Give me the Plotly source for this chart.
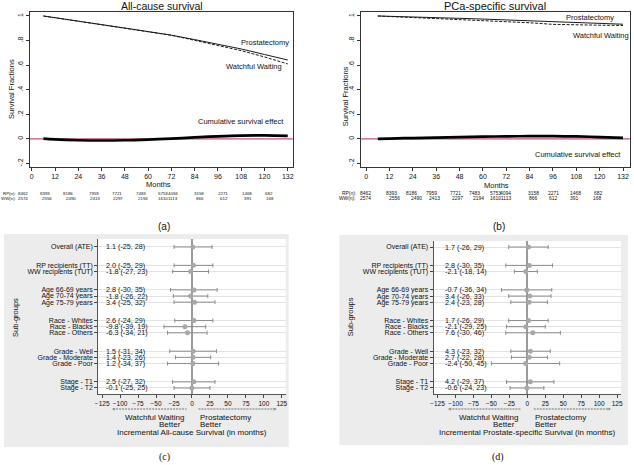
import plotly.graph_objects as go

W, H = 634, 465
FONT = "Liberation Sans"

# ---------------- Data: survival curves ----------------
months = [6, 12, 24, 36, 48, 60, 72, 84, 96, 108, 120, 132]
ac_rp = [1.0, 0.985, 0.957, 0.930, 0.902, 0.875, 0.844, 0.808, 0.771, 0.732, 0.687, 0.642]
ac_ww = [1.0, 0.986, 0.960, 0.933, 0.905, 0.876, 0.843, 0.802, 0.761, 0.718, 0.667, 0.610]
ac_eff = [0.003, -0.004, -0.011, -0.013, -0.011, -0.005, 0.003, 0.012, 0.021, 0.027, 0.028, 0.024]

pc_rp = [1.0, 0.998, 0.993, 0.987, 0.981, 0.975, 0.968, 0.961, 0.954, 0.947, 0.940, 0.933]
pc_ww = [1.0, 0.996, 0.988, 0.980, 0.972, 0.965, 0.958, 0.945, 0.932, 0.926, 0.925, 0.923]
pc_eff = [0.0, 0.003, 0.007, 0.011, 0.015, 0.018, 0.021, 0.022, 0.022, 0.020, 0.015, 0.008]

x_ticks = [0, 12, 24, 36, 48, 60, 72, 84, 96, 108, 120, 132]
y_ticks = [-0.2, 0, 0.2, 0.4, 0.6, 0.8, 1.0]
y_ticktext = ["-.2", "0", ".2", ".4", ".6", ".8", "1"]

rp_n = [8462, 8393, 8186, 7959, 7721, 7483, 5753, 4094, 3158, 2271, 1468, 682]
ww_n = [2574, 2556, 2490, 2413, 2297, 2194, 1610, 1113, 866, 612, 391, 168]

# ---------------- Data: forest plots ----------------
labels = ["Overall (ATE)", "RP recipients (TT)", "WW recipients (TUT)",
          "Age 66-69 years", "Age 70-74 years", "Age 75-79 years",
          "Race - Whites", "Race - Blacks", "Race - Others",
          "Grade - Well", "Grade - Moderate", "Grade - Poor",
          "Stage - T1", "Stage - T2"]
group_sizes = [1, 2, 3, 3, 3, 2]

c_est = [1.1, 2.0, -1.8, 2.8, -1.8, 3.4, 2.6, -9.8, -6.3, 1.5, 1.4, 1.2, 2.5, -0.1]
c_lo = [-25, -25, -27, -30, -26, -25, -24, -39, -34, -31, -23, -34, -27, -25]
c_hi = [28, 29, 23, 35, 22, 32, 29, 19, 21, 34, 26, 37, 32, 25]

d_est = [1.7, 2.8, -2.1, -0.7, 3.4, 2.4, 1.7, -2.1, 7.6, 4.3, 2.7, -2.4, 4.2, -0.6]
d_lo = [-26, -30, -18, -36, -26, -23, -26, -29, -30, -23, -22, -50, -29, -24]
d_hi = [29, 35, 14, 34, 33, 28, 29, 25, 46, 32, 28, 45, 37, 23]

forest_ticks = [-125, -100, -75, -50, -25, 0, 25, 50, 75, 100, 125]

# ---------------- helpers ----------------
def fx(x):
    return x / W

def fy(y):
    return 1 - y / H

positions = []
i = 0
for g, n in enumerate(group_sizes):
    for _ in range(n):
        positions.append(i + 2 * g)
        i += 1

fig = go.Figure()

# ---- panel a / b survival ----
for (rp, ww, eff, xa, ya) in [(ac_rp, ac_ww, ac_eff, "x", "y"), (pc_rp, pc_ww, pc_eff, "x2", "y2")]:
    fig.add_trace(go.Scatter(x=months, y=rp, mode="lines", xaxis=xa, yaxis=ya,
                             line=dict(color="#1a1a1a", width=1), showlegend=False, hoverinfo="skip"))
    fig.add_trace(go.Scatter(x=months, y=ww, mode="lines", xaxis=xa, yaxis=ya,
                             line=dict(color="#1a1a1a", width=1, dash="3px,1.5px"), showlegend=False, hoverinfo="skip"))
    fig.add_trace(go.Scatter(x=months, y=eff, mode="lines", xaxis=xa, yaxis=ya,
                             line=dict(color="black", width=2.7, shape="spline"), showlegend=False, hoverinfo="skip"))

# ---- panel c / d forest ----
for (est, lo, hi, xa, ya) in [(c_est, c_lo, c_hi, "x3", "y3"), (d_est, d_lo, d_hi, "x4", "y4")]:
    fig.add_trace(go.Scatter(
        x=est, y=positions, mode="markers", xaxis=xa, yaxis=ya,
        marker=dict(color="#a8a8a8", size=5),
        error_x=dict(type="data", array=[h - e for h, e in zip(hi, est)],
                     arrayminus=[e - l for e, l in zip(est, lo)],
                     color="#8c8c8c", thickness=1, width=2),
        showlegend=False, hoverinfo="skip"))

# ---------------- shapes ----------------
shapes = []
for (x0, y0, x1, y1) in [(1, 234, 288, 447), (339, 235, 630, 445)]:
    shapes.append(dict(type="rect", xref="paper", yref="paper", x0=fx(x0), x1=fx(x1),
                       y0=fy(y1), y1=fy(y0), fillcolor="#ececec", line=dict(width=0), layer="below"))
for (x0, y0, x1, y1) in [(96, 239, 285, 394), (434, 241, 623, 394)]:
    shapes.append(dict(type="rect", xref="paper", yref="paper", x0=fx(x0), x1=fx(x1),
                       y0=fy(y1), y1=fy(y0), fillcolor="white", line=dict(width=0), layer="below"))
for xa, ya in [("x", "y"), ("x2", "y2")]:
    shapes.append(dict(type="line", xref=xa + " domain", yref=ya, x0=0, x1=1, y0=0, y1=0,
                       line=dict(color="#b02a52", width=1), layer="below"))

# ---------------- annotations ----------------
ann = []

def txt(text, x, y, size=7.5, xanchor="center", yanchor="middle", angle=0, family=FONT, color="#111"):
    ann.append(dict(text=text, x=fx(x), y=fy(y), xref="paper", yref="paper", showarrow=False,
                    xanchor=xanchor, yanchor=yanchor, textangle=angle,
                    font=dict(family=family, size=size, color=color)))

txt("All-cause survival", 160, 5.5, size=10.5)
txt("PCa-specific survival", 496, 5.5, size=11)
txt("Survival Fractions", 8, 89, size=7.5, angle=-90)
txt("Survival Fractions", 346, 96, size=7.5, angle=-90)
txt("Months", 157, 184, size=7.5)
txt("Months", 497, 185, size=7.5)
txt("Prostatectomy", 264, 42)
txt("Watchful Waiting", 253, 66)
txt("Cumulative survival effect", 240, 121)
txt("Prostatectomy", 592, 17)
txt("Watchful Waiting", 603, 35)
txt("Cumulative survival effect", 580, 154)

a_rp_pos = [20, 42, 66, 92, 115, 139, 161, 171, 198, 222, 246, 268]
a_ww_pos = [20, 44, 69, 93, 116, 141, 161, 171, 199, 223, 247, 269]
b_rp_pos = [365.5, 391.5, 412, 432, 456.5, 475.5, 496.5, 506.5, 535, 555, 577, 599.5]
b_ww_pos = [365.5, 394.5, 416.5, 434.5, 458.5, 479.5, 496.5, 506.5, 534, 554, 575.5, 599]
for (rpos, wpos, lab_x, fs) in [(a_rp_pos, a_ww_pos, 15.5, 4.4), (b_rp_pos, b_ww_pos, 358, 4.9)]:
    txt("RP(n):", lab_x, 193.5, size=fs, xanchor="right")
    txt("WW(n):", lab_x, 198, size=fs, xanchor="right")
    for v, p in zip(rp_n, rpos):
        txt(str(v), p, 193.5, size=fs)
    for v, p in zip(ww_n, wpos):
        txt(str(v), p, 198, size=fs)

txt("(a)", 162, 226, size=10)
txt("(b)", 500, 226, size=10)
txt("(c)", 163, 457, size=10, family="Liberation Serif")
txt("(d)", 499, 457, size=10, family="Liberation Serif")

for (est, lo, hi, xa, ya, xstart) in [(c_est, c_lo, c_hi, "x3", "y3", -122), (d_est, d_lo, d_hi, "x4", "y4", -118)]:
    for e, l, h, p in zip(est, lo, hi, positions):
        ann.append(dict(text=f"{e:.1f} ({l}, {h})", x=xstart, y=p, xref=xa, yref=ya,
                        showarrow=False, xanchor="left", yanchor="middle",
                        font=dict(family=FONT, size=7.2, color="#111")))

txt("Sub-groups", 12, 317, size=7.5, angle=-90)
txt("Sub-groups", 350, 317, size=7.5, angle=-90)

for (l0, l1, r0, r1, zero, title) in [
        (108, 185, 197, 278, 191, "Incremental All-cause Survival (in months)"),
        (447, 522, 535, 615, 528, "Incremental Prostate-specific Survival (in months)")]:
    shapes.append(dict(type="line", xref="paper", yref="paper", x0=fx(l0 + 3), x1=fx(l1),
                       y0=fy(409), y1=fy(409), line=dict(color="#555", width=0.8, dash="2px,1px")))
    shapes.append(dict(type="line", xref="paper", yref="paper", x0=fx(r0), x1=fx(r1 - 3),
                       y0=fy(409), y1=fy(409), line=dict(color="#555", width=0.8, dash="2px,1px")))
    txt("<", l0, 409, size=6, xanchor="left", color="#555")
    txt(">", r1, 409, size=6, xanchor="right", color="#555")
    txt("Watchful Waiting", zero - 7, 417.5, size=8, xanchor="right")
    txt("Better", zero - 10, 424.5, size=8, xanchor="right")
    txt("Prostatectomy", zero + 6, 417.5, size=8, xanchor="left")
    txt("Better", zero + 6, 424.5, size=8, xanchor="left")
    txt(title, zero, 432.5, size=8)

# ---------------- axes ----------------
surv_x = dict(tickmode="array", tickvals=x_ticks, ticks="outside", ticklen=3, tickcolor="#333",
              showline=True, linecolor="#333", linewidth=1, mirror=True, showgrid=False, zeroline=False,
              tickfont=dict(family=FONT, size=7, color="#111"))
surv_y = dict(tickmode="array", tickvals=y_ticks, ticktext=y_ticktext, ticks="outside", ticklen=3,
              tickcolor="#333", tickangle=-90, showline=True, linecolor="#333", linewidth=1, mirror=True,
              showgrid=False, zeroline=False, range=[-0.2285, 1.0325],
              tickfont=dict(family=FONT, size=7, color="#111"))

forest_x = dict(tickmode="array", tickvals=forest_ticks, ticks="outside", ticklen=3, tickcolor="#444",
                showline=True, linecolor="#555", linewidth=1, showgrid=False,
                zeroline=True, zerolinecolor="#9a9a9a", zerolinewidth=2, range=[-130.5, 130.5],
                tickfont=dict(family=FONT, size=6.5, color="#111"))
forest_y = dict(tickmode="array", tickvals=positions, ticktext=labels, ticks="outside", ticklen=3,
                tickcolor="#444", showline=True, linecolor="#555", linewidth=1,
                showgrid=True, gridcolor="#e3e3e3", gridwidth=1, zeroline=False,
                tickfont=dict(family=FONT, size=7, color="#111"))

fig.update_layout(
    width=W, height=H, autosize=False,
    margin=dict(l=0, r=0, t=0, b=0),
    paper_bgcolor="white", plot_bgcolor="rgba(0,0,0,0)",
    font=dict(family=FONT, color="#111"),
    xaxis=dict(surv_x, domain=[fx(27), fx(292)], range=[-1.02, 134.56], anchor="y"),
    yaxis=dict(surv_y, domain=[fy(167), fy(12)], anchor="x"),
    xaxis2=dict(surv_x, domain=[fx(361), fx(632)], range=[-2.55, 135.6], anchor="y2"),
    yaxis2=dict(surv_y, domain=[fy(167), fy(12)], anchor="x2"),
    xaxis3=dict(forest_x, domain=[fx(96), fx(285)], anchor="y3"),
    yaxis3=dict(forest_y, domain=[fy(394), fy(239)], range=[23.98, -1.3], anchor="x3"),
    xaxis4=dict(forest_x, domain=[fx(434), fx(623)], anchor="y4"),
    yaxis4=dict(forest_y, domain=[fy(394), fy(241)], range=[23.98, -0.98], anchor="x4"),
    shapes=shapes,
    annotations=ann,
)

fig.write_html("out.html", config={"displayModeBar": False},
               post_script="document.body.style.margin='0';document.body.style.overflow='hidden';")
